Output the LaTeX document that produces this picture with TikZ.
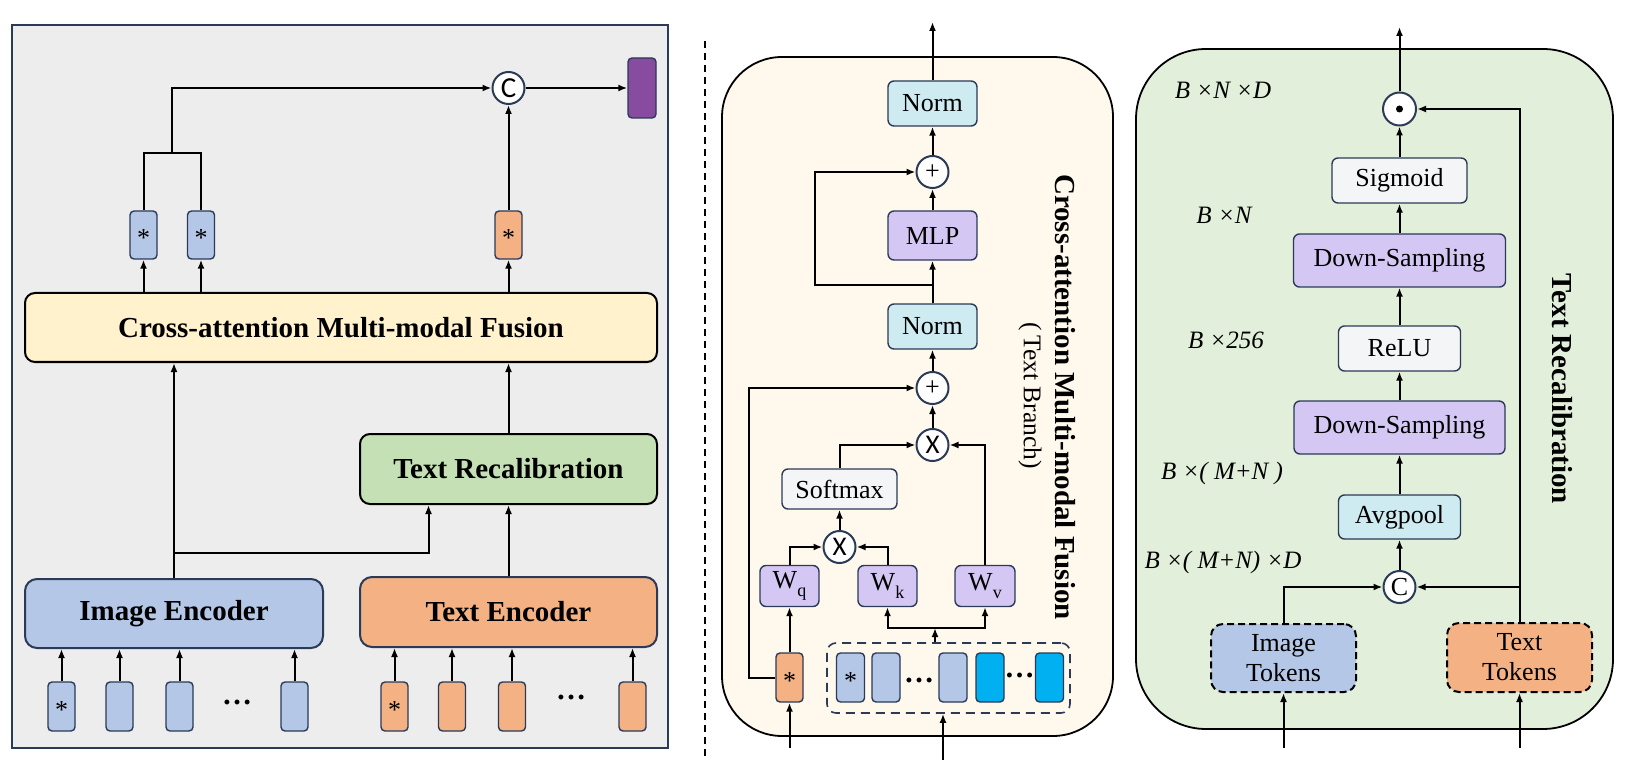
\documentclass[tikz,border=0pt]{standalone}
\usepackage{fontspec}
\setmainfont{Liberation Serif}
\newfontfamily\csans{Carlito}
\usetikzlibrary{arrows.meta,calc}
\definecolor{navy}{HTML}{2B3A57}
\definecolor{panelgray}{HTML}{EDEDED}
\definecolor{crossfill}{HTML}{FFF2CC}
\definecolor{recalfill}{HTML}{C5E0B4}
\definecolor{bluefill}{HTML}{B4C7E7}
\definecolor{orangefill}{HTML}{F4B183}
\definecolor{purplefill}{HTML}{874BA0}
\definecolor{creamfill}{HTML}{FEF9EC}
\definecolor{normfill}{HTML}{CDEBF0}
\definecolor{lavfill}{HTML}{D5C7F4}
\definecolor{grayfill}{HTML}{F4F5F7}
\definecolor{cyanfill}{HTML}{00B0F0}
\definecolor{greenpanel}{HTML}{E2EFDA}
\newcommand\fsz[2]{\fontsize{#1}{#2}\selectfont}
\begin{document}
\begin{tikzpicture}[x=1pt,y=-1pt,
  arr/.style={-{Latex[length=9pt,width=7pt]}, line width=2pt},
  plain/.style={line width=2pt},
  bigbox/.style={draw=black, line width=2pt, rounded corners=10pt, inner sep=0pt, font=\bfseries\fsz{29}{33}},
  encbox/.style={draw=navy, line width=2pt, rounded corners=12pt, inner sep=0pt, font=\bfseries\fsz{29}{33}},
  box/.style={draw=navy, line width=1.4pt, rounded corners=6pt, inner sep=0pt, font=\fsz{26}{30}},
  tok/.style={draw=navy, line width=1.4pt, rounded corners=4pt, minimum width=27pt, minimum height=49pt, inner sep=0pt},
  star/.style={font=\fsz{26}{26}, inner sep=0pt, yshift=-3pt},
  circ/.style={circle, draw=navy, fill=white, line width=2pt, minimum size=32pt, inner sep=0pt},
  dimlbl/.style={font=\itshape\fsz{25}{28}, inner sep=0pt},
  dotsl/.style={font=\bfseries\fsz{30}{30}, inner sep=0pt}
]
\useasboundingbox (0,0) rectangle (1627,775);

% ---------------- left panel ----------------
\node[draw=navy, fill=panelgray, line width=2pt, minimum width=656pt, minimum height=723pt, inner sep=0pt] (pL) at (340,386.5) {};

\node[bigbox, fill=crossfill, minimum width=632pt, minimum height=69pt] (cross) at (341,327.5) {Cross-attention Multi-modal Fusion};
\node[bigbox, fill=recalfill, minimum width=297pt, minimum height=70pt] (recal) at (508.5,469) {Text Recalibration};
\node[encbox, fill=bluefill, minimum width=298pt, minimum height=69pt] (imgenc) at (174,613.5) {Image Encoder};
\node[encbox, fill=orangefill, minimum width=297pt, minimum height=70pt] (txtenc) at (508.5,612) {Text Encoder};

% top tokens
\node[tok, fill=bluefill, minimum height=48pt] (t1) at (143.5,235) {};
\node[tok, fill=bluefill, minimum height=48pt] (t2) at (201,235) {};
\node[tok, fill=orangefill, minimum height=48pt] (t3) at (508.5,235) {};
\node[star] at (t1) {*};
\node[star] at (t2) {*};
\node[star] at (t3) {*};

\node[circ] (cc) at (508.5,88) {\csans\fsz{29}{29}C};
\node[draw=navy, fill=purplefill, line width=1.4pt, rounded corners=4pt, minimum width=28pt, minimum height=60pt, inner sep=0pt] (pur) at (642,88) {};

% bottom tokens
\node[tok, fill=bluefill] (b1) at (61.5,706.5) {};
\node[tok, fill=bluefill] (b2) at (119.5,706.5) {};
\node[tok, fill=bluefill] (b3) at (179.5,706.5) {};
\node[tok, fill=bluefill] (b4) at (294.5,706.5) {};
\node[star] at (b1) {*};
\node[dotsl] (bd) at (237,702) {…};
\node[tok, fill=orangefill] (o1) at (394.5,706.5) {};
\node[tok, fill=orangefill] (o2) at (452,706.5) {};
\node[tok, fill=orangefill] (o3) at (512,706.5) {};
\node[tok, fill=orangefill] (o4) at (632.5,706.5) {};
\node[star] at (o1) {*};
\node[dotsl] (od) at (571,697) {…};

\foreach \t in {b1,b2,b3,b4} \draw[arr] (\t.north) -- (\t.north |- imgenc.south);
\foreach \t in {o1,o2,o3,o4} \draw[arr] (\t.north) -- (\t.north |- txtenc.south);

\draw[arr] (imgenc.north) -- (imgenc.north |- cross.south);
\coordinate (br) at (174,553);
\coordinate (rin) at ($(recal.south west)+(69.5,0)$);
\draw[arr] (br) -| (rin);
\draw[arr] (txtenc.north) -- (recal.south);
\draw[arr] (recal.north) -- (recal.north |- cross.south);

\draw[arr] (cross.north -| t1) -- (t1.south);
\draw[arr] (cross.north -| t2) -- (t2.south);
\draw[arr] (cross.north -| t3) -- (t3.south);
\coordinate (jn) at (172.25,153);
\draw[plain] (t1.north) |- (jn) -| (t2.north);
\draw[arr] (jn) |- (cc.west);
\draw[arr] (t3.north) -- (cc.south);
\draw[arr] (cc.east) -- (pur.west);

% separator
\coordinate (sA) at (705,41);
\coordinate (sB) at (705,760);
\draw[line width=2pt, dash pattern=on 7pt off 5pt] (sA) -- (sB);

% ---------------- middle panel ----------------
\node[draw=black, fill=creamfill, line width=1.8pt, rounded corners=60pt, minimum width=391pt, minimum height=679pt, inner sep=0pt] (pM) at (917.5,396.5) {};

\node[box, fill=normfill, minimum width=89pt, minimum height=45pt] (normB) at (932.5,103.5) {Norm};
\node[circ] (plA) at (932.5,172) {\fsz{26}{26}+};
\node[box, fill=lavfill, minimum width=89pt, minimum height=49pt] (mlp) at (932.5,235.5) {MLP};
\node[box, fill=normfill, minimum width=89pt, minimum height=45pt] (normA) at (932.5,326.5) {Norm};
\node[circ] (plB) at (932.5,388) {\fsz{26}{26}+};
\node[circ] (xa) at (932.5,445) {\csans\fsz{27}{27}X};
\node[box, fill=grayfill, minimum width=115pt, minimum height=40pt] (soft) at (839.5,489) {Softmax};
\node[circ] (xb) at (839.5,547) {\csans\fsz{27}{27}X};
\node[box, fill=lavfill, minimum width=59pt, minimum height=41pt] (wq) at (789.5,586) {W\raisebox{-0.3em}{\fsz{18}{18}q}};
\node[box, fill=lavfill, minimum width=59pt, minimum height=41pt] (wk) at (887.5,586) {W\raisebox{-0.3em}{\fsz{18}{18}k}};
\node[box, fill=lavfill, minimum width=60pt, minimum height=41pt] (wv) at (985,586) {W\raisebox{-0.3em}{\fsz{18}{18}v}};

\node[tok, fill=orangefill] (tq) at (789.5,677.5) {};
\node[star] at (tq) {*};
\node[draw=navy, line width=1.6pt, dash pattern=on 9pt off 6pt, rounded corners=9pt, minimum width=243pt, minimum height=70pt, inner sep=0pt] (grp) at (948.5,678) {};
\node[tok, fill=bluefill, minimum width=28pt] (g1) at (850.5,677.5) {};
\node[tok, fill=bluefill, minimum width=28pt] (g2) at (886,677.5) {};
\node[tok, fill=bluefill, minimum width=28pt] (g3) at (953,677.5) {};
\node[tok, fill=cyanfill, minimum width=28pt] (g4) at (990,677.5) {};
\node[tok, fill=cyanfill, minimum width=28pt] (g5) at (1049.5,677.5) {};
\node[star] at (g1) {*};
\node[dotsl] (gd1) at (919,680) {…};
\node[dotsl] (gd2) at (1019.5,675) {…};

\node[rotate=-90, font=\bfseries\fsz{29}{33}, inner sep=0pt] (tM) at (1065,397) {Cross-attention Multi-modal Fusion};
\node[rotate=-90, font=\fsz{25.5}{30}, inner sep=0pt] (tM2) at (1030,396) {(\,Text Branch)};

\coordinate (outM) at (932.5,22);
\coordinate (inq) at (789.5,748);
\coordinate (ing) at (943,760);
\coordinate (gs) at (935,628);
\coordinate (rA) at (932.5,285);

\draw[arr] (normB.north) -- (outM);
\draw[arr] (plA.north) -- (normB.south);
\draw[arr] (mlp.north) -- (plA.south);
\draw[arr] (normA.north) -- (mlp.south);
\draw[arr] (rA) -- ++(-117.5,0) |- (plA.west);
\draw[arr] (plB.north) -- (normA.south);
\draw[arr] (xa.north) -- (plB.south);
\draw[arr] (soft.north) |- (xa.west);
\draw[arr] (wv.north) |- (xa.east);
\draw[arr] (xb.north) -- (soft.south);
\draw[arr] (wq.north) |- (xb.west);
\draw[arr] (wk.north) |- (xb.east);
\draw[arr] (tq.north) -- (wq.south);
\draw[arr] (inq) -- (tq.south);
\draw[arr] (ing) -- (ing |- grp.south);
\draw[arr] (tq.west) -- ++(-26,0) |- (plB.west);
\draw[arr] (gs) -| (wk.south);
\draw[arr] (gs) -| (wv.south);
\draw[arr] (grp.north -| gs) -- (gs);

% ---------------- right panel ----------------
\node[draw=black, fill=greenpanel, line width=1.8pt, rounded corners=70pt, minimum width=477pt, minimum height=680pt, inner sep=0pt] (pR) at (1374.5,389) {};

\node[circ, minimum size=33pt] (odot) at (1399.5,109) {};
\fill (odot.center) circle (3.5);
\node[box, fill=grayfill, minimum width=135pt, minimum height=45pt] (sig) at (1399.5,180.5) {Sigmoid};
\node[box, fill=lavfill, minimum width=212pt, minimum height=53pt] (dsA) at (1399.5,260.5) {Down-Sampling};
\node[box, fill=grayfill, minimum width=122pt, minimum height=45pt] (relu) at (1399.5,348.5) {ReLU};
\node[box, fill=lavfill, minimum width=211pt, minimum height=53pt] (dsB) at (1399.5,427.5) {Down-Sampling};
\node[box, fill=normfill, minimum width=122pt, minimum height=44pt] (avg) at (1399.5,517) {Avgpool};
\node[circ] (cR) at (1399.5,587) {\fsz{26}{26}C};
\node[box, draw=black, fill=bluefill, line width=2pt, dash pattern=on 7pt off 4pt, rounded corners=12pt, minimum width=145pt, minimum height=68pt, align=center] (itok) at (1283.5,658) {Image\\Tokens};
\node[box, draw=black, fill=orangefill, line width=2pt, dash pattern=on 7pt off 4pt, rounded corners=12pt, minimum width=145pt, minimum height=69pt, align=center] (ttok) at (1519.5,657.5) {Text\\Tokens};

\node[dimlbl] (l1) at (1223,90) {B ×N ×D};
\node[dimlbl] (l2) at (1224,215) {B ×N};
\node[dimlbl] (l3) at (1226,340) {B ×256};
\node[dimlbl] (l4) at (1222,473) {B ×( M+N )};
\node[dimlbl] (l5) at (1223,562) {B ×( M+N) ×D};

\node[rotate=-90, font=\bfseries\fsz{29}{33}, inner sep=0pt] (tR) at (1562,389) {Text Recalibration};

\coordinate (outR) at (1399.5,27);
\coordinate (inI) at (1283.5,748);
\coordinate (inT) at (1519.5,748);

\draw[arr] (odot.north) -- (outR);
\draw[arr] (sig.north) -- (odot.south);
\draw[arr] (dsA.north) -- (sig.south);
\draw[arr] (relu.north) -- (dsA.south);
\draw[arr] (dsB.north) -- (relu.south);
\draw[arr] (avg.north) -- (dsB.south);
\draw[arr] (cR.north) -- (avg.south);
\draw[arr] (itok.north) |- (cR.west);
\draw[arr] (ttok.north) |- (odot.east);
\draw[arr] (ttok.north |- cR) -- (cR.east);
\draw[arr] (inI) -- (itok.south);
\draw[arr] (inT) -- (ttok.south);
\end{tikzpicture}
\end{document}
